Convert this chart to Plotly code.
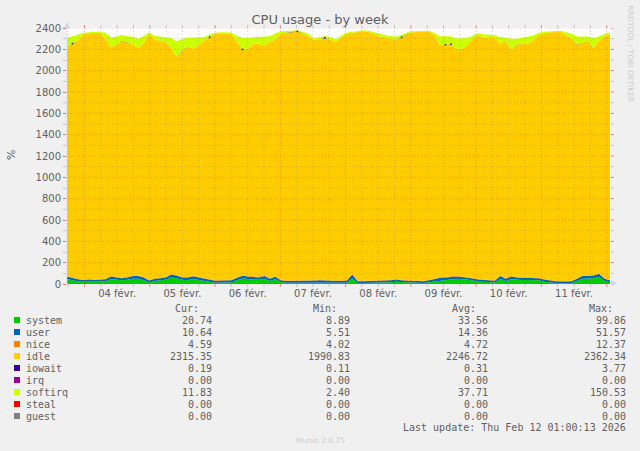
import pandas as pd
import plotly.graph_objects as go

# Values, one point every two hours or so

system = [46, 32, 24, 20, 22, 20, 22, 24, 46, 39, 34, 39, 49, 50, 36, 14, 29, 34, 39, 60,
          54, 39, 36, 46, 38, 26, 22, 12, 14, 12, 14, 34, 52, 46, 42, 39, 49, 29, 44, 18,
          12, 12, 14, 16, 14, 14, 18, 16, 12, 12, 12, 12, 52, 9, 9, 10, 10, 12, 14, 16,
          22, 18, 14, 12, 12, 10, 16, 26, 34, 39, 46, 49, 44, 42, 32, 22, 20, 16, 14, 46,
          29, 44, 39, 38, 38, 39, 34, 22, 14, 10, 8, 9, 10, 29, 49, 52, 54, 66, 29, 16]
user = [24, 23, 20, 18, 20, 18, 18, 21, 24, 23, 21, 23, 26, 25, 24, 18, 21, 21, 21, 28,
        26, 23, 24, 26, 24, 24, 20, 18, 18, 18, 20, 24, 26, 24, 23, 23, 27, 21, 24, 18,
        16, 16, 18, 18, 16, 18, 18, 16, 16, 18, 16, 18, 38, 16, 16, 16, 15, 16, 18, 20,
        20, 18, 16, 16, 16, 16, 18, 22, 24, 21, 22, 21, 21, 20, 20, 20, 18, 18, 16, 29,
        21, 26, 21, 20, 20, 21, 21, 20, 18, 16, 16, 15, 16, 21, 25, 23, 26, 29, 21, 19]
nice = [5, 5, 4, 5, 5, 4, 5, 5, 5, 5, 4, 5, 5, 5, 5, 4, 5, 5, 5, 5,
        5, 5, 4, 5, 5, 5, 5, 4, 5, 5, 5, 5, 5, 5, 4, 5, 5, 5, 5, 5,
        4, 5, 5, 5, 5, 4, 5, 5, 5, 5, 4, 5, 5, 5, 5, 4, 5, 5, 5, 5,
        5, 4, 5, 5, 5, 5, 4, 5, 5, 5, 5, 4, 5, 5, 5, 5, 4, 5, 5, 5,
        5, 5, 4, 5, 5, 5, 5, 4, 5, 5, 5, 5, 5, 4, 5, 5, 5, 5, 5, 5]
idle = [2130, 2190, 2236, 2297, 2303, 2309, 2310, 2250, 2150, 2173, 2220, 2198, 2165, 2130, 2195, 2313, 2235, 2220, 2205, 2122,
        2045, 2123, 2165, 2128, 2178, 2225, 2263, 2310, 2308, 2310, 2306, 2207, 2112, 2130, 2185, 2188, 2154, 2215, 2217, 2309,
        2322, 2327, 2328, 2311, 2285, 2253, 2254, 2268, 2257, 2235, 2277, 2310, 2260, 2330, 2338, 2334, 2315, 2287, 2278, 2259,
        2248, 2269, 2305, 2327, 2329, 2334, 2326, 2282, 2177, 2175, 2172, 2130, 2135, 2168, 2243, 2288, 2267, 2276, 2275, 2175,
        2225, 2120, 2180, 2187, 2192, 2215, 2275, 2303, 2323, 2331, 2336, 2306, 2269, 2190, 2186, 2200, 2130, 2180, 2265, 2300]
iowait = [0.3, 3.7, 0.3, 0.2, 0.3, 0.2, 0.3, 0.3, 0.3, 0.2, 0.3, 0.3, 0.2, 0.3, 0.3, 0.3, 0.2, 0.3, 0.3, 0.2,
          0.3, 0.3, 0.2, 0.3, 0.3, 0.2, 3.5, 0.3, 0.2, 0.3, 0.3, 0.2, 3.7, 0.3, 0.2, 0.3, 0.3, 0.2, 0.3, 0.3,
          0.2, 0.3, 3.4, 0.2, 0.3, 0.3, 0.2, 3.6, 0.3, 0.2, 0.3, 0.3, 0.2, 0.3, 0.3, 0.2, 0.3, 0.3, 0.2, 0.3,
          0.3, 3.2, 0.3, 0.3, 0.2, 0.3, 0.3, 0.2, 0.3, 3.3, 3.7, 0.2, 0.3, 0.3, 0.2, 0.3, 0.3, 0.2, 0.3, 0.3,
          0.2, 0.3, 0.3, 0.2, 0.3, 0.3, 0.2, 0.3, 0.3, 0.2, 0.3, 0.3, 0.2, 0.3, 0.3, 0.2, 0.3, 0.3, 0.2, 0.2]
softirq = [100, 68, 50, 15, 10, 10, 10, 55, 85, 80, 55, 60, 73, 90, 65, 10, 35, 40, 45, 90,
           145, 110, 80, 107, 67, 35, 25, 10, 15, 13, 13, 55, 110, 100, 60, 63, 83, 55, 60, 20,
           17, 14, 10, 15, 25, 15, 20, 17, 25, 25, 20, 13, 10, 12, 10, 10, 15, 22, 20, 25,
           23, 25, 18, 10, 10, 9, 10, 17, 82, 80, 75, 97, 95, 70, 30, 15, 30, 20, 25, 60,
           25, 105, 55, 62, 65, 50, 20, 15, 10, 12, 10, 25, 45, 75, 55, 40, 90, 40, 25, 18]

times = pd.date_range('2026-02-03 17:34', periods=len(system), freq='121min')

x_start = '2026-02-03 17:34'
x_end = '2026-02-12 01:35'

day_ticks = ['2026-02-04 12:00', '2026-02-05 12:00', '2026-02-06 12:00', '2026-02-07 12:00',
             '2026-02-08 12:00', '2026-02-09 12:00', '2026-02-10 12:00', '2026-02-11 12:00']
day_labels = ['04 févr.', '05 févr.', '06 févr.', '07 févr.', '08 févr.', '09 févr.', '10 févr.', '11 févr.']

# Legend table

names = ['system', 'user', 'nice', 'idle', 'iowait', 'irq', 'softirq', 'steal', 'guest']
colors = ['#00CC00', '#0066B3', '#FF8000', '#FFCC00', '#330099', '#990099', '#CCFF00', '#FF0000', '#808080']
cur = ['20.74', '10.64', '4.59', '2315.35', '0.19', '0.00', '11.83', '0.00', '0.00']
mins = ['8.89', '5.51', '4.02', '1990.83', '0.11', '0.00', '2.40', '0.00', '0.00']
avgs = ['33.56', '14.36', '4.72', '2246.72', '0.31', '0.00', '37.71', '0.00', '0.00']
maxs = ['99.86', '51.57', '12.37', '2362.34', '3.77', '0.00', '150.53', '0.00', '0.00']

LEFT, RIGHT, TOP, BOTTOM = 67, 611, 28, 284
TEXT = '#606060'
MINOR = 'rgba(130,130,130,0.35)'
MAJOR = 'rgba(225,70,50,0.4)'
ARROW = '#CDD5F5'


def px(x):
    return (x - LEFT) / (RIGHT - LEFT)


def py(y):
    return (BOTTOM - y) / (BOTTOM - TOP)


fig = go.Figure()

zeros = [0] * len(system)
series = [system, user, nice, idle, iowait, zeros, softirq, zeros, zeros]
for name, color, values in zip(names, colors, series):
    fig.add_trace(go.Scatter(x=times, y=values, name=name, stackgroup='cpu',
                             mode='lines', line=dict(width=0),
                             fillcolor=color, showlegend=False))

# The iowait peaks are under a pixel high in the stack, so mark them

peak_x = [t for t, v in zip(times, iowait) if v > 1]
peak_y = [sum(v[:5]) for v in zip(system, user, nice, idle, iowait) if v[4] > 1]
fig.add_trace(go.Scatter(x=peak_x, y=peak_y, mode='markers', showlegend=False,
                         marker=dict(color='#330099', size=1.5, symbol='square')))

# Grid goes over the areas, so it is drawn as shapes

for t in pd.date_range('2026-02-03 18:00', '2026-02-12 00:00', freq='6h'):
    major = t.hour == 0
    color = MAJOR if major else MINOR
    fig.add_shape(type='line', x0=t, x1=t, y0=0, y1=1, yref='paper', layer='above',
                  line=dict(color=color, width=1, dash='1px,2px'))
    fig.add_shape(type='line', x0=t, x1=t, y0=py(287), y1=0, yref='paper', layer='above',
                  line=dict(color='rgba(225,70,50,0.6)' if major else 'rgba(130,130,130,0.4)', width=1))
    fig.add_shape(type='line', x0=t, x1=t, y0=1, y1=py(25), yref='paper', layer='above',
                  line=dict(color='rgba(225,70,50,0.6)' if major else 'rgba(130,130,130,0.4)', width=1))

for v in range(100, 2500, 100):
    major = v % 200 == 0
    fig.add_shape(type='line', x0=0, x1=1, xref='paper', y0=v, y1=v, layer='above',
                  line=dict(color=MAJOR if major else MINOR, width=1, dash='1px,2px'))
    fig.add_shape(type='line', x0=1, x1=px(614), xref='paper', y0=v, y1=v, layer='above',
                  line=dict(color='rgba(225,70,50,0.6)' if major else 'rgba(130,130,130,0.4)', width=1))

# Axis lines and arrows

fig.add_shape(type='line', x0=0, x1=0, y0=0, y1=1, xref='paper', yref='paper', layer='above',
              line=dict(color=ARROW, width=1, dash='2px,1px'))
fig.add_shape(type='path', xref='paper', yref='paper', layer='above', fillcolor=ARROW, line=dict(width=0),
              path=f'M {px(64)} {py(28)} L {px(70)} {py(28)} L {px(67)} {py(22)} Z')
fig.add_shape(type='path', xref='paper', yref='paper', layer='above', fillcolor=ARROW, line=dict(width=0),
              path=f'M {px(611)} {py(280)} L {px(611)} {py(286)} L {px(617)} {py(283)} Z')


def add_text(x, y, text, anchor='left', size=10, color=TEXT, family='DejaVu Sans Mono', angle=0):
    # annotation boxes carry a little padding, take it back
    shift = {'left': -2, 'right': 2, 'center': 0}[anchor]
    fig.add_annotation(x=px(x), y=py(y), xref='paper', yref='paper', text=text, showarrow=False,
                       xanchor=anchor, yanchor='middle', textangle=angle, xshift=shift,
                       font=dict(family=family, size=size, color=color))


# Legend

for header, right in zip(['Cur:', 'Min:', 'Avg:', 'Max:'], [199, 337, 476, 613]):
    add_text(right, 308, header, anchor='right')

for i, name in enumerate(names):
    row_y = 320 + i * 12
    fig.add_shape(type='rect', xref='paper', yref='paper', layer='above',
                  x0=px(14), x1=px(20), y0=py(row_y + 3), y1=py(row_y - 3),
                  fillcolor=colors[i], line=dict(width=0))
    add_text(26, row_y, name)
    add_text(212, row_y, cur[i], anchor='right')
    add_text(349.5, row_y, mins[i], anchor='right')
    add_text(488, row_y, avgs[i], anchor='right')
    add_text(626, row_y, maxs[i], anchor='right')

add_text(626, 427, 'Last update: Thu Feb 12 01:00:13 2026', anchor='right')
add_text(320, 440, 'Munin 2.0.75', anchor='center', size=7.5, color='#CCCCCC', family='DejaVu Sans')
add_text(630, 53.5, 'RRDTOOL / TOBI OETIKER', anchor='center', size=7.5, color='#CCCCCC',
         family='DejaVu Sans', angle=90)
add_text(11, 155, '%', anchor='center', size=11, family='DejaVu Sans', angle=-90)

fig.update_layout(width=640, height=451,
                  margin=dict(l=LEFT, r=640 - RIGHT, t=TOP, b=451 - BOTTOM, pad=0),
                  paper_bgcolor='#F0F0F0',
                  plot_bgcolor='#FFFFFF',
                  showlegend=False,
                  title=dict(text='CPU usage - by week', x=0.5, xanchor='center', xref='container',
                             y=1 - 19 / 451, yanchor='middle',
                             font=dict(family='DejaVu Sans', size=13, color=TEXT)))

fig.update_xaxes(range=[x_start, x_end], tickmode='array', tickvals=day_ticks, ticktext=day_labels,
                 showgrid=False, zeroline=False, showline=False, ticks='', ticklabelstandoff=2,
                 tickfont=dict(family='DejaVu Sans', size=10, color=TEXT))
fig.update_yaxes(range=[0, 2400], tickmode='array', tickvals=list(range(0, 2600, 200)),
                 showgrid=False, zeroline=False, showline=False,
                 ticks='outside', ticklen=3, tickcolor='rgba(225,70,50,0.6)', tickwidth=1,
                 minor=dict(ticks='outside', ticklen=3, tickcolor='rgba(130,130,130,0.4)', dtick=100, tick0=0),
                 tickfont=dict(family='DejaVu Sans', size=10, color=TEXT))

# Page margin would push the whole chart 8px off
fig.write_html("out.html", config=dict(displayModeBar=False),
               post_script="document.body.style.margin='0';document.body.style.background='#F0F0F0';")
